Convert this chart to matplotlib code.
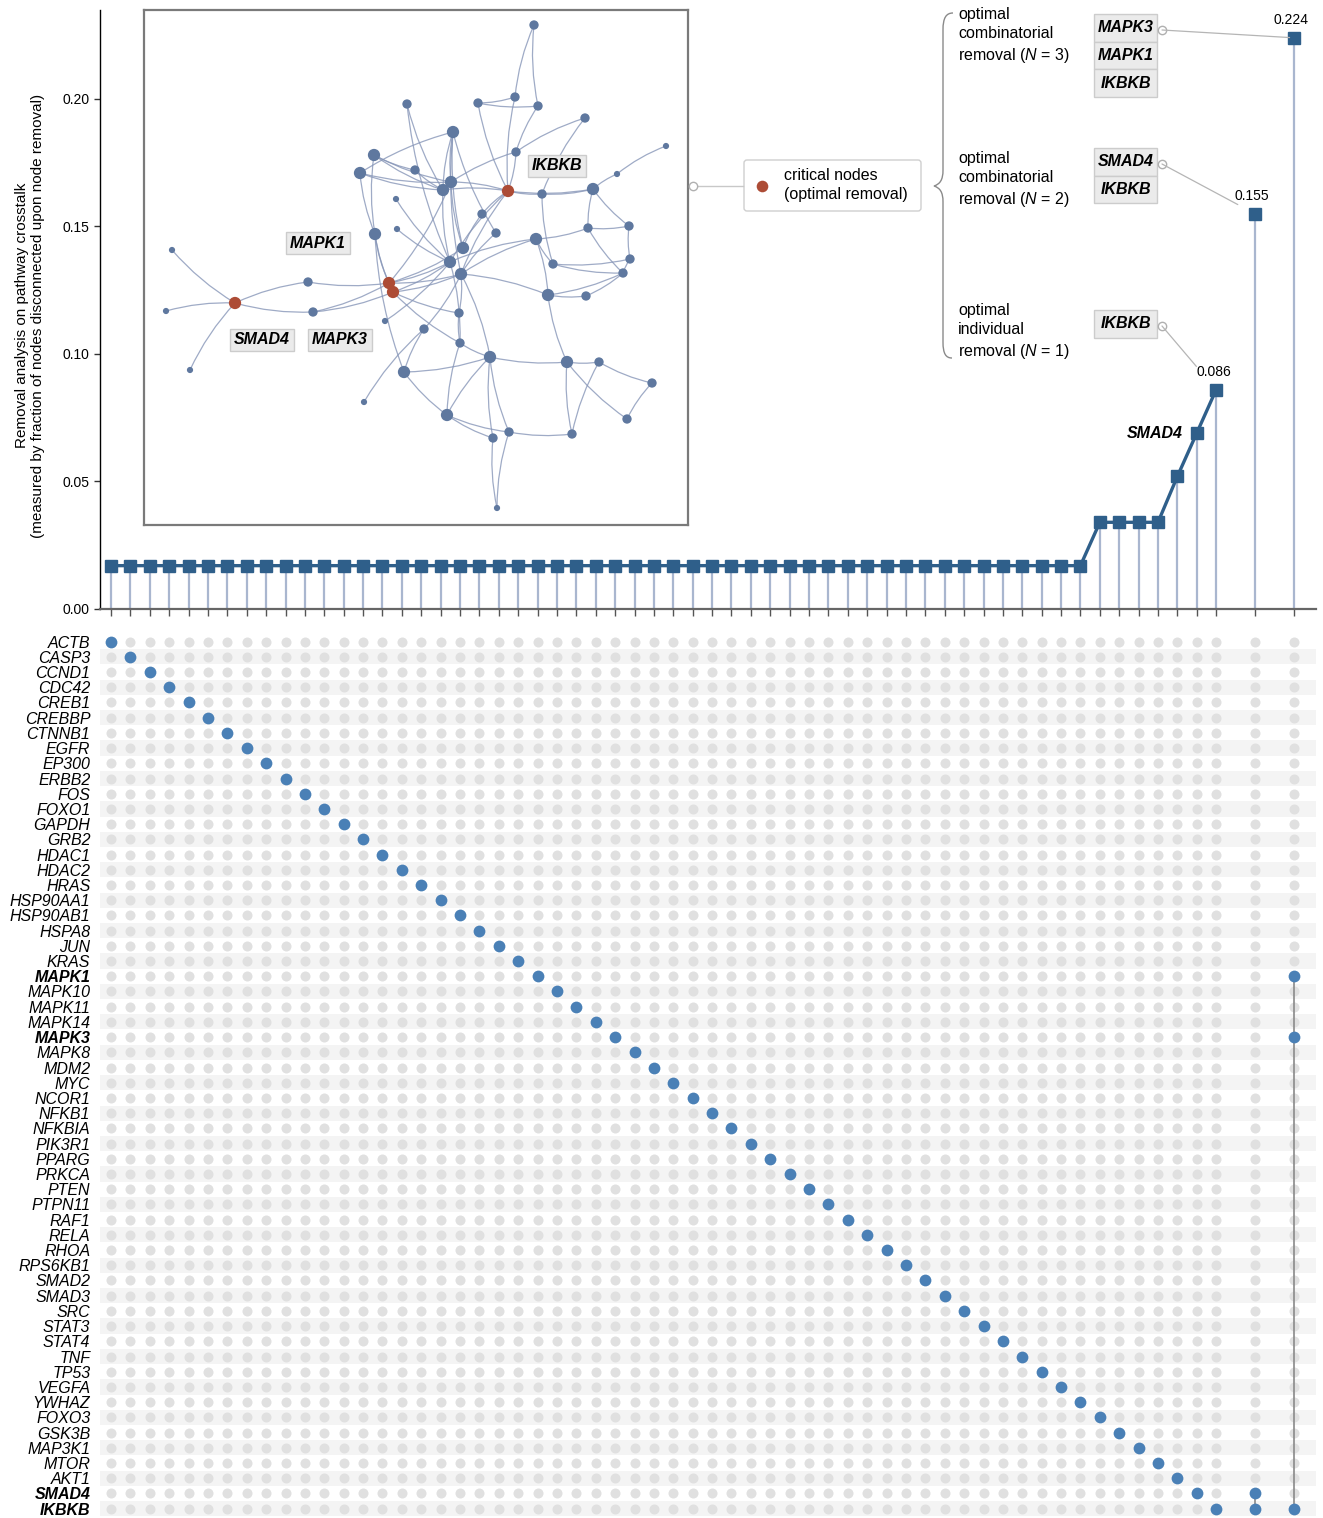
import matplotlib
matplotlib.use("Agg")
import matplotlib.pyplot as plt
from matplotlib.patches import FancyArrowPatch, FancyBboxPatch, Rectangle, PathPatch
from matplotlib.path import Path
import numpy as np

plt.rcParams['font.family'] = ['Liberation Sans', 'DejaVu Sans']
plt.rcParams['mathtext.fontset'] = 'custom'
plt.rcParams['mathtext.it'] = 'Liberation Sans:italic'
plt.rcParams['mathtext.rm'] = 'Liberation Sans'

# ---------------- data ----------------
genes = ['ACTB', 'CASP3', 'CCND1', 'CDC42', 'CREB1', 'CREBBP', 'CTNNB1', 'EGFR',
         'EP300', 'ERBB2', 'FOS', 'FOXO1', 'GAPDH', 'GRB2', 'HDAC1', 'HDAC2',
         'HRAS', 'HSP90AA1', 'HSP90AB1', 'HSPA8', 'JUN', 'KRAS', 'MAPK1', 'MAPK10',
         'MAPK11', 'MAPK14', 'MAPK3', 'MAPK8', 'MDM2', 'MYC', 'NCOR1', 'NFKB1',
         'NFKBIA', 'PIK3R1', 'PPARG', 'PRKCA', 'PTEN', 'PTPN11', 'RAF1', 'RELA',
         'RHOA', 'RPS6KB1', 'SMAD2', 'SMAD3', 'SRC', 'STAT3', 'STAT4', 'TNF',
         'TP53', 'VEGFA', 'YWHAZ', 'FOXO3', 'GSK3B', 'MAP3K1', 'MTOR', 'AKT1',
         'SMAD4', 'IKBKB']
bold_genes = ['MAPK1', 'MAPK3', 'SMAD4', 'IKBKB']

# fraction of nodes disconnected when each gene is removed alone
single_removal = [0.017, 0.017, 0.017, 0.017, 0.017, 0.017, 0.017, 0.017,
                  0.017, 0.017, 0.017, 0.017, 0.017, 0.017, 0.017, 0.017,
                  0.017, 0.017, 0.017, 0.017, 0.017, 0.017, 0.017, 0.017,
                  0.017, 0.017, 0.017, 0.017, 0.017, 0.017, 0.017, 0.017,
                  0.017, 0.017, 0.017, 0.017, 0.017, 0.017, 0.017, 0.017,
                  0.017, 0.017, 0.017, 0.017, 0.017, 0.017, 0.017, 0.017,
                  0.017, 0.017, 0.017, 0.034, 0.034, 0.034, 0.034, 0.052,
                  0.069, 0.086]
combo_sets = [['SMAD4', 'IKBKB'], ['MAPK3', 'MAPK1', 'IKBKB']]
combo_removal = [0.155, 0.224]

# network inset (pixel-like layout coordinates)
net_x = [534, 478, 515, 538, 585, 407, 453, 666, 516, 374, 415, 360, 617, 451, 443,
         508, 542, 593, 396, 482, 397, 375, 496, 536, 588, 629, 463, 172, 450, 553,
         630, 461, 623, 308, 389, 393, 235, 166, 313, 548, 586, 385, 459, 424, 460,
         490, 567, 599, 190, 404, 652, 364, 447, 627, 509, 493, 572, 497]
net_y = [25, 103, 97, 106, 118, 104, 132, 146, 152, 155, 170, 173, 174, 182, 190,
         191, 194, 189, 199, 214, 229, 234, 233, 239, 228, 226, 248, 250, 262, 264,
         259, 274, 273, 282, 283, 292, 303, 311, 312, 295, 296, 321, 313, 329, 343,
         357, 362, 362, 370, 372, 383, 402, 415, 419, 432, 438, 434, 508]
net_size = [2, 2, 2, 2, 2, 2, 3, 1, 2, 3, 2, 3, 1, 3, 3,
            3, 2, 3, 1, 2, 1, 3, 2, 3, 2, 2, 3, 1, 3, 2,
            2, 3, 2, 2, 3, 3, 2, 1, 2, 3, 2, 1, 2, 2, 2,
            3, 3, 2, 1, 3, 2, 1, 3, 2, 2, 2, 2, 1]
net_critical = [15, 34, 35, 36]
net_edges = [(0, 2), (0, 3), (1, 2), (1, 3), (1, 15), (2, 15), (3, 8), (4, 8), (4, 16),
             (7, 12), (12, 17), (6, 13), (6, 14), (6, 26), (6, 31), (6, 22), (6, 11),
             (9, 10), (9, 14), (9, 13), (9, 21), (11, 13), (11, 14), (11, 21),
             (5, 28), (5, 14), (15, 16), (15, 17), (15, 13), (15, 14), (15, 8),
             (15, 28), (15, 31), (15, 19), (16, 17), (16, 29), (17, 24), (17, 25),
             (18, 28), (20, 28), (21, 34), (21, 35), (21, 49), (23, 28), (23, 31),
             (23, 29), (23, 24), (24, 25), (24, 32), (25, 30), (27, 36), (30, 32),
             (29, 32), (29, 30), (33, 36), (33, 34), (36, 37), (36, 48), (36, 38),
             (38, 35), (38, 34), (34, 28), (34, 31), (34, 26), (34, 13), (35, 28),
             (35, 31), (35, 44), (35, 42), (41, 28), (39, 40), (39, 46), (39, 31),
             (39, 32), (39, 23), (40, 32), (43, 31), (43, 49), (43, 51), (42, 44),
             (42, 31), (44, 45), (44, 52), (44, 28), (45, 46), (45, 52), (45, 55),
             (45, 54), (45, 31), (46, 47), (46, 53), (46, 56), (47, 50), (47, 56),
             (50, 53), (49, 52), (49, 45), (52, 54), (52, 55), (54, 56), (54, 57),
             (55, 57), (19, 26), (22, 31), (8, 13), (10, 14), (13, 26), (14, 28)]
net_labels = {'IKBKB': (557, 166), 'MAPK1': (318, 243), 'SMAD4': (262, 340), 'MAPK3': (340, 340)}

# ---------------- styles ----------------
W, H = 1323, 1518
line_c = '#2f5f8a'
stem_c = '#a9b6cf'
dot_blue = '#4a80b6'
dot_gray = '#e0e0e0'
node_c = '#5f789f'
crit_c = '#ad4c36'
edge_c = '#8796b8'
box_fc = '#ebebeb'
box_ec = '#cccccc'

fig = plt.figure(figsize=(W / 100, H / 100), dpi=100)


def px_axes(x0, y0, x1, y1, **kw):
    return fig.add_axes([x0 / W, 1 - y1 / H, (x1 - x0) / W, (y1 - y0) / H], **kw)


n = len(genes)
single_x = np.arange(n)
combo_x = np.array([n + 1, n + 3])
all_x = np.concatenate([single_x, combo_x])
xlim = (-0.57, 62.15)

# ---------------- top panel ----------------
ax = px_axes(100, 10, 1316, 609)
ax.set_xlim(*xlim)
ax.set_ylim(0, 0.2349)
all_vals = list(single_removal) + list(combo_removal)
ax.vlines(all_x, 0, all_vals, color=stem_c, lw=1.6, zorder=1)
ax.plot(single_x, single_removal, '-', color=line_c, lw=2.4, zorder=2)
ax.plot(all_x, all_vals, 's', color=line_c, ms=8, zorder=3, lw=0)
ax.set_yticks([0, 0.05, 0.10, 0.15, 0.20])
ax.set_yticklabels(['0.00', '0.05', '0.10', '0.15', '0.20'], fontsize=10)
ax.set_xticks(all_x)
ax.set_xticklabels([])
ax.tick_params(axis='x', length=5, color='#555555', width=1)
ax.tick_params(axis='y', length=4, color='#333333', width=1)
for s in ['top', 'right']:
    ax.spines[s].set_visible(False)
ax.spines['bottom'].set_color('#666666')
ax.spines['bottom'].set_linewidth(1.6)
ax.spines['left'].set_linewidth(1.0)
ax.set_ylabel('Removal analysis on pathway crosstalk\n'
              '(measured by fraction of nodes disconnected upon node removal)',
              fontsize=11, linespacing=1.2)
ax.yaxis.set_label_coords(-0.045, 0.49)

# value labels on the three optimal removals
for xv, v in [(single_x[-1], single_removal[-1]), (combo_x[0], combo_removal[0]),
              (combo_x[1], combo_removal[1])]:
    ax.annotate(f'{v:.3f}', (xv, v), xytext=(-2, 8), textcoords='offset points',
                ha='center', va='bottom', fontsize=10)
ax.annotate('SMAD4', (single_x[-2], single_removal[-2]), xytext=(-10, 0),
            textcoords='offset points', ha='right', va='center', fontsize=11.5,
            fontweight='bold', fontstyle='italic')

# ---------------- matrix panel ----------------
axm = px_axes(100, 634, 1316, 1517)
axm.set_xlim(*xlim)
axm.set_ylim(n - 0.45, -0.5)
for i in range(1, n, 2):
    axm.axhspan(i - 0.5, i + 0.5, color='#f4f4f4', zorder=0, lw=0)
gx, gy = np.meshgrid(all_x, np.arange(n))
axm.scatter(gx.ravel(), gy.ravel(), s=52, color=dot_gray, lw=0, zorder=1)
axm.scatter(single_x, np.arange(n), s=72, color=dot_blue, lw=0, zorder=3)
for cx, members in zip(combo_x, combo_sets):
    rows = [genes.index(g) for g in members]
    axm.plot([cx, cx], [min(rows), max(rows)], color='#8a8a8a', lw=1.2, zorder=2)
    axm.scatter([cx] * len(rows), rows, s=72, color=dot_blue, lw=0, zorder=3)
axm.set_yticks(np.arange(n))
axm.set_yticklabels(genes, fontsize=11.5, fontstyle='italic')
for lab in axm.get_yticklabels():
    if lab.get_text() in bold_genes:
        lab.set_fontweight('bold')
axm.tick_params(axis='y', length=0, pad=7)
axm.set_xticks([])
for s in axm.spines.values():
    s.set_visible(False)

# ---------------- network inset ----------------
axn = px_axes(144, 10, 688, 525)
axn.set_xlim(144, 688)
axn.set_ylim(525, 10)
axn.set_xticks([])
axn.set_yticks([])
for s in axn.spines.values():
    s.set_color('#7a7a7a')
    s.set_linewidth(1.6)
for a, b in net_edges:
    axn.add_patch(FancyArrowPatch((net_x[a], net_y[a]), (net_x[b], net_y[b]),
                                  arrowstyle='-', connectionstyle='arc3,rad=0.08',
                                  color=edge_c, lw=0.9, alpha=0.8, zorder=1,
                                  shrinkA=0, shrinkB=0))
size_map = {1: 20, 2: 45, 3: 78}
cols = [crit_c if i in net_critical else node_c for i in range(len(net_x))]
sizes = [78 if i in net_critical else size_map[s] for i, s in enumerate(net_size)]
axn.scatter(net_x, net_y, s=sizes, c=cols, lw=0, zorder=2)
for lab, (lx, ly) in net_labels.items():
    axn.text(lx, ly, lab, ha='center', va='center', fontsize=11.5, fontweight='bold',
             fontstyle='italic', zorder=4,
             bbox=dict(boxstyle='square,pad=0.25', fc=box_fc, ec=box_ec, lw=1))

# ---------------- annotations overlay ----------------
ov = fig.add_axes([0, 0, 1, 1], zorder=10)
ov.set_xlim(0, W)
ov.set_ylim(H, 0)
ov.axis('off')
ov.patch.set_alpha(0)

# legend box for critical nodes
ov.plot([693, 743], [186, 186], color='#c8c8c8', lw=1)
ov.plot(693, 186, 'o', mfc='white', mec='#b0b0b0', ms=6, mew=1)
ov.add_patch(FancyBboxPatch((744, 160), 177, 51, boxstyle='round,pad=0,rounding_size=3',
                            fc='white', ec='#cfcfcf', lw=1))
ov.scatter([762], [186], s=70, color=crit_c, lw=0)
ov.text(784, 185, 'critical nodes\n(optimal removal)', ha='left', va='center',
        fontsize=11.5, linespacing=1.3)

# brace
verts = [(953, 13), (946, 13), (943, 18), (943, 30),
         (943, 170),
         (943, 180), (940, 184), (934, 186),
         (940, 188), (943, 192), (943, 202),
         (943, 342),
         (943, 354), (946, 358), (952, 358)]
codes = [Path.MOVETO, Path.CURVE4, Path.CURVE4, Path.CURVE4, Path.LINETO,
         Path.CURVE4, Path.CURVE4, Path.CURVE4, Path.CURVE4, Path.CURVE4, Path.CURVE4,
         Path.LINETO, Path.CURVE4, Path.CURVE4, Path.CURVE4]
ov.add_patch(PathPatch(Path(verts, codes), fc='none', ec='#8a8a8a', lw=1))

group_text = ['optimal\ncombinatorial\nremoval ($N$ = 3)',
              'optimal\ncombinatorial\nremoval ($N$ = 2)',
              'optimal\nindividual\nremoval ($N$ = 1)']
group_y = [36, 180, 332]
for t, gyv in zip(group_text, group_y):
    ov.text(958, gyv, t, ha='left', va='center', fontsize=11.5, linespacing=1.35)

# gene boxes and connectors to the markers
box_groups = [(combo_sets[1], 14, combo_x[1], combo_removal[1], 3),
              (combo_sets[0], 148, combo_x[0], combo_removal[0], 14),
              (['IKBKB'], 310, single_x[-1], single_removal[-1], 22)]
for members, top, xv, v, shrink in box_groups:
    for k, g in enumerate(members):
        y0 = top + k * 27.5
        ov.add_patch(Rectangle((1094, y0), 63, 27.5, fc=box_fc, ec=box_ec, lw=1))
        ov.text(1125.5, y0 + 14, g, ha='center', va='center', fontsize=11.5,
                fontweight='bold', fontstyle='italic')
    cy = top + 16
    ov.annotate('', xy=(xv, v), xycoords=ax.transData, xytext=(1162, cy),
                textcoords='data',
                arrowprops=dict(arrowstyle='-', color='#b5b5b5', lw=0.9,
                                shrinkA=0, shrinkB=shrink))
    ov.plot(1162, cy, 'o', mfc='white', mec='#b0b0b0', ms=6, mew=1)

fig.savefig('out.png', dpi=100)
